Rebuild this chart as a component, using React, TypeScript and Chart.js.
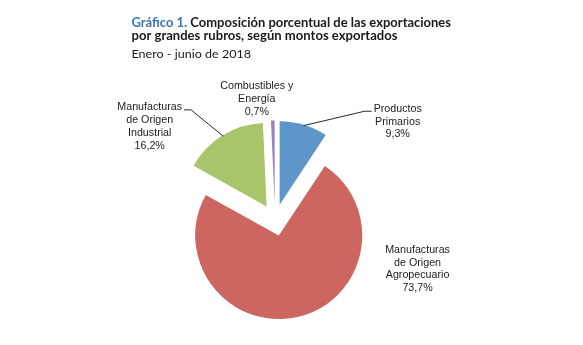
import React, { useEffect, useRef } from "react";
import { Chart, registerables } from "chart.js";

Chart.register(...registerables);

// ---- Data ----
const categories = [
  "Productos Primarios",
  "Manufacturas de Origen Agropecuario",
  "Manufacturas de Origen Industrial",
  "Combustibles y Energía",
];
const labelLines = [
  ["Productos", "Primarios"],
  ["Manufacturas", "de Origen", "Agropecuario"],
  ["Manufacturas", "de Origen", "Industrial"],
  ["Combustibles y", "Energía"],
];
const values = [9.3, 73.7, 16.2, 0.7];
const valueLabels = ["9,3%", "73,7%", "16,2%", "0,7%"];

const titleLabel = "Gráfico 1.";
const titleLine1 = " Composición porcentual de las exportaciones";
const titleLine2 = "por grandes rubros, según montos exportados";
const subtitle = "Enero - junio de 2018";

// ---- Style / layout ----
const colors = ["#5E96C9", "#CD6660", "#AAC46C", "#9A80C2"];
const EXPLODE_PX = 16; // displacement of every slice away from the centre
const PIE_RADIUS = 83.5;
const labelOffsets: [number, number][] = [
  [94, -16],
  [119, -67],
  [-73, -28],
  [-16, -34.5],
];
const leaderSides: (string | null)[] = ["left", null, "right", null];
const LABEL_FONT = '10.7px "Liberation Sans", Arial, sans-serif';
const LINE_H = 12.9;
const TEXT_COLOR = "#1c1c1c";

// Moves every arc element outward along its mid-angle (exploded pie)
const explodePlugin = {
  id: "explode",
  afterDatasetsUpdate(chart: any) {
    const meta = chart.getDatasetMeta(0);
    meta.data.forEach((arc: any) => {
      const mid = (arc.startAngle + arc.endAngle) / 2;
      arc.x += Math.cos(mid) * EXPLODE_PX;
      arc.y += Math.sin(mid) * EXPLODE_PX;
    });
  },
};

const labelPlugin = {
  id: "sliceLabels",
  afterDatasetsDraw(chart: any) {
    const ctx = chart.ctx as CanvasRenderingContext2D;
    const meta = chart.getDatasetMeta(0);
    ctx.save();
    ctx.font = LABEL_FONT;
    ctx.fillStyle = TEXT_COLOR;
    ctx.strokeStyle = "#262626";
    ctx.lineWidth = 1;
    ctx.textAlign = "center";
    ctx.textBaseline = "middle";
    meta.data.forEach((arc: any, i: number) => {
      const { x, y, startAngle, endAngle, outerRadius } = arc;
      const mid = (startAngle + endAngle) / 2;
      const ex = x + Math.cos(mid) * outerRadius;
      const ey = y + Math.sin(mid) * outerRadius;
      const [dx, dy] = labelOffsets[i];
      const cx = ex + dx;
      const cy = ey + dy;
      const lines = [...labelLines[i], valueLabels[i]];
      lines.forEach((t, k) => ctx.fillText(t, cx, cy + k * LINE_H));
      const side = leaderSides[i];
      if (side) {
        const w = ctx.measureText(lines[0]).width;
        const tx = side === "left" ? cx - w / 2 - 2 : cx + w / 2 + 2;
        const elbow = side === "left" ? tx - 7 : tx + 7;
        const ly = cy + 2.5;
        const ix = x + Math.cos(mid) * (outerRadius - 1);
        const iy = y + Math.sin(mid) * (outerRadius - 1);
        ctx.beginPath();
        ctx.moveTo(tx, ly);
        ctx.lineTo(elbow, ly);
        ctx.lineTo(ix, iy);
        ctx.stroke();
      }
    });
    ctx.restore();
  },
};

function drawFitted(
  ctx: CanvasRenderingContext2D,
  parts: { text: string; color: string }[],
  x: number,
  y: number,
  target: number
) {
  const totalW = parts.reduce((s, p) => s + ctx.measureText(p.text).width, 0);
  const sx = target / totalW;
  ctx.save();
  ctx.translate(x, y);
  ctx.scale(sx, 1);
  let cur = 0;
  parts.forEach((p) => {
    ctx.fillStyle = p.color;
    ctx.fillText(p.text, cur, 0);
    cur += ctx.measureText(p.text).width;
  });
  ctx.restore();
}

const titlePlugin = {
  id: "pageTitle",
  afterDraw(chart: any) {
    const ctx = chart.ctx as CanvasRenderingContext2D;
    ctx.save();
    ctx.textAlign = "left";
    ctx.textBaseline = "alphabetic";
    ctx.font = 'bold 12.3px Lato, "Open Sans", sans-serif';
    drawFitted(
      ctx,
      [
        { text: titleLabel, color: "#3A74B3" },
        { text: titleLine1, color: "#1a1a1a" },
      ],
      131.5,
      26.5,
      319.5
    );
    drawFitted(ctx, [{ text: titleLine2, color: "#1a1a1a" }], 131.5, 40, 266);
    ctx.font = '12.3px Lato, "Open Sans", sans-serif';
    drawFitted(ctx, [{ text: subtitle, color: "#1a1a1a" }], 131.5, 57.5, 119.5);
    ctx.restore();
  },
};

export default function App() {
  const ref = useRef<HTMLCanvasElement>(null);
  useEffect(() => {
    const chart = new Chart(ref.current as HTMLCanvasElement, {
      type: "pie",
      data: {
        labels: categories,
        datasets: [
          {
            data: values,
            backgroundColor: colors,
            borderWidth: 0,
            radius: PIE_RADIUS,
          } as any,
        ],
      },
      options: {
        responsive: false,
        animation: false,
        radius: PIE_RADIUS,
        layout: { padding: { left: 0, right: 33, top: 95, bottom: 0 } },
        plugins: {
          legend: { display: false },
          tooltip: { enabled: false },
          title: { display: false },
        },
      } as any,
      plugins: [explodePlugin, labelPlugin, titlePlugin],
    });
    return () => chart.destroy();
  }, []);
  return (
    <div
      style={{
        position: "fixed",
        left: 0,
        top: 0,
        width: 583,
        height: 345,
        background: "#ffffff",
      }}
    >
      <canvas
        ref={ref}
        width={583}
        height={345}
        style={{ position: "absolute", left: 0, top: 0, width: 583, height: 345 }}
      />
    </div>
  );
}
